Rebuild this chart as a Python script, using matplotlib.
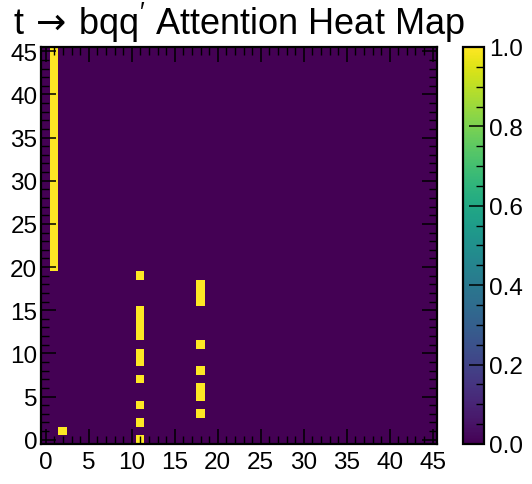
import numpy as np
import matplotlib
matplotlib.use("Agg")
import matplotlib.pyplot as plt
from matplotlib.ticker import MultipleLocator

plt.rcParams['font.family'] = ['Liberation Sans', 'DejaVu Sans']
plt.rcParams['mathtext.fontset'] = 'custom'
plt.rcParams['mathtext.rm'] = 'Liberation Sans'
plt.rcParams['mathtext.it'] = 'Liberation Sans'
plt.rcParams['mathtext.bf'] = 'Liberation Sans:bold'
plt.rcParams['mathtext.sf'] = 'DejaVu Sans'

# size of the attention matrix (46 x 46 tokens)
n_tokens = 46

# cells with attention 1, as vertical runs: column, first row, last row
run_cols = [1, 2, 11, 11, 11, 11, 11, 11, 11, 18, 18, 18, 18, 18]
run_start = [20, 1, 19, 12, 9, 7, 4, 2, 0, 16, 11, 8, 5, 3]
run_end = [45, 1, 19, 15, 10, 7, 4, 2, 0, 18, 11, 8, 6, 3]

attn = np.zeros((n_tokens, n_tokens))
for c, r0, r1 in zip(run_cols, run_start, run_end):
    attn[r0:r1 + 1, c] = 1.0

fig = plt.figure(figsize=(5.32, 4.85), dpi=100)
ax = fig.add_axes([0.078, 0.0825, 0.7434, 0.8186])
cax = fig.add_axes([0.8712, 0.0825, 0.0395, 0.8186])

im = ax.imshow(attn, cmap='viridis', origin='lower', vmin=0, vmax=1,
               interpolation='nearest', aspect='auto')
ax.set_xlim(-0.5, n_tokens - 0.5)
ax.set_ylim(-0.5, n_tokens - 0.5)

ax.xaxis.set_major_locator(MultipleLocator(5))
ax.yaxis.set_major_locator(MultipleLocator(5))
ax.xaxis.set_minor_locator(MultipleLocator(1))
ax.yaxis.set_minor_locator(MultipleLocator(1))
ax.tick_params(which='both', direction='in', top=True, right=True,
               labelsize=17.5)
ax.tick_params(which='major', length=10.5, width=1.1)
ax.tick_params(which='minor', length=5.8, width=1.0)
ax.tick_params(axis='y', pad=3)
ax.tick_params(axis='x', pad=5)
for s in ax.spines.values():
    s.set_linewidth(1.6)

ax.set_title(r"$\mathrm{t}\:\mathsf{\rightarrow}\:\mathrm{bqq^{\prime}}$ Attention Heat Map",
             fontsize=26, pad=9)

cb = fig.colorbar(im, cax=cax)
cb.set_ticks([0.0, 0.2, 0.4, 0.6, 0.8, 1.0])
cb.ax.yaxis.set_minor_locator(MultipleLocator(0.05))
cb.ax.tick_params(which='both', direction='in', labelsize=17.5, pad=3)
cb.ax.tick_params(which='major', length=10.5, width=1.1)
cb.ax.tick_params(which='minor', length=5.8, width=1.0)
cb.outline.set_linewidth(1.6)

fig.savefig("out.png", dpi=100)
